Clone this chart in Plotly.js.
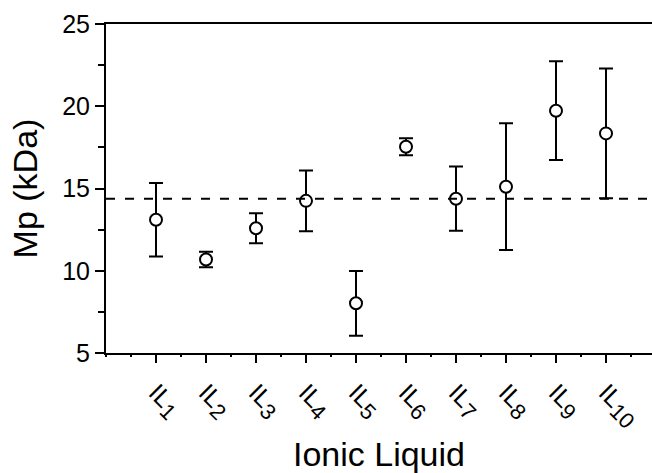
<!DOCTYPE html>
<html>
<head>
<meta charset="utf-8">
<script src="https://cdn.plot.ly/plotly-3.0.1.min.js"></script>
<style>html,body{margin:0;padding:0;background:#fff;}#chart{width:652px;height:473px;}</style>
</head>
<body>
<div id="chart"></div>
<script>
// Data
const positions = [1, 2, 3, 4, 5, 6, 7, 8, 9, 10];
const labelNumbers = ["1", "2", "3", "4", "5", "6", "7", "8", "9", "10"];
const mpValues = [13.1, 10.68, 12.58, 14.25, 8.02, 17.54, 14.38, 15.11, 19.73, 18.35];
const mpErrors = [2.23, 0.47, 0.91, 1.85, 1.97, 0.52, 1.95, 3.85, 3.0, 3.95];
const meanValue = 14.37;
const meanLineX = [0, 10.92];

const tickLabels = labelNumbers.map(n => "IL<sub><span style='font-size:22px'>" + n + "</span></sub>");

const font = "Liberation Sans, Arial, sans-serif";

const traces = [
  {
    x: positions,
    y: mpValues,
    type: "scatter",
    mode: "markers",
    marker: {symbol: "circle", size: 12, color: "#ffffff", line: {color: "#000000", width: 2}},
    error_y: {type: "data", array: mpErrors, visible: true, color: "#000000", thickness: 2, width: 7},
    showlegend: false,
    hoverinfo: "x+y"
  },
  {
    x: meanLineX,
    y: [meanValue, meanValue],
    type: "scatter",
    mode: "lines",
    line: {color: "#000000", width: 2, dash: "9px,10px"},
    showlegend: false,
    hoverinfo: "skip"
  }
];

const layout = {
  width: 652,
  height: 473,
  margin: {l: 106, r: 0, t: 24, b: 120},
  paper_bgcolor: "#ffffff",
  plot_bgcolor: "#ffffff",
  font: {family: font, color: "#000000", size: 25},
  xaxis: {
    range: [0, 10.92],
    tickmode: "array",
    tickvals: positions,
    ticktext: tickLabels,
    tickangle: 45,
    ticks: "outside",
    ticklen: 8,
    tickwidth: 2,
    tickcolor: "#000000",
    ticklabelstandoff: 5,
    tickfont: {family: font, size: 25, color: "#000000"},
    minor: {dtick: 0.5, tick0: 0.5, ticks: "outside", ticklen: 2, tickwidth: 1.5, tickcolor: "#000000"},
    showline: true,
    linecolor: "#000000",
    linewidth: 2,
    mirror: true,
    showgrid: false,
    zeroline: false,
    title: {text: "Ionic Liquid", font: {family: font, size: 34, color: "#000000"}, standoff: 16}
  },
  yaxis: {
    range: [5, 25],
    tickmode: "linear",
    tick0: 5,
    dtick: 5,
    ticks: "outside",
    ticklen: 9,
    tickwidth: 2,
    tickcolor: "#000000",
    tickfont: {family: font, size: 25, color: "#000000"},
    minor: {dtick: 2.5, ticks: "outside", ticklen: 6, tickwidth: 2, tickcolor: "#000000"},
    showline: true,
    linecolor: "#000000",
    linewidth: 2,
    showgrid: false,
    zeroline: false,
    title: {text: "Mp (kDa)", font: {family: font, size: 34, color: "#000000"}, standoff: 14}
  }
};

Plotly.newPlot("chart", traces, layout, {displayModeBar: false, staticPlot: true});
</script>
</body>
</html>
